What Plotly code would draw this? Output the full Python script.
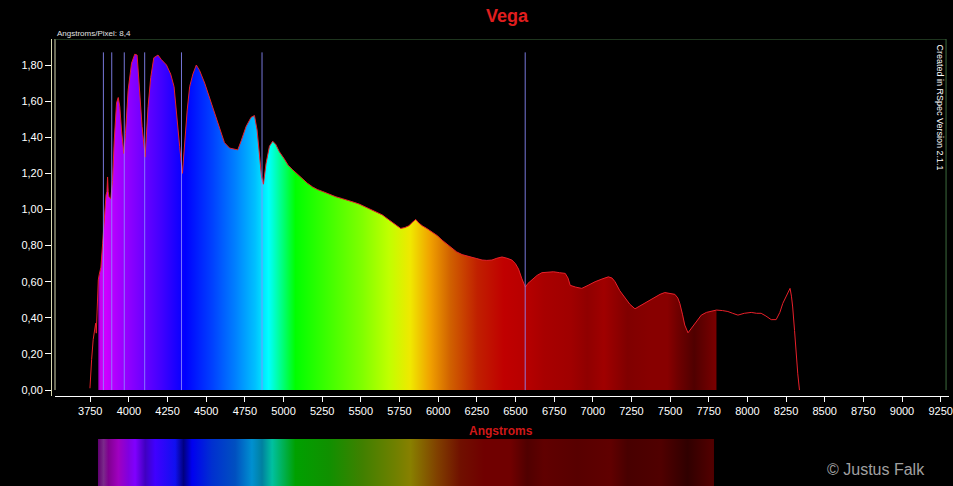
import plotly.graph_objects as go

# Vega spectrum
wavelength = [3748, 3750, 3759, 3769, 3776, 3785, 3789, 3793, 3798, 3802, 3808, 3819, 3830, 3838,
              3845, 3852, 3858, 3862, 3866, 3871, 3883, 3894, 3905, 3920, 3931, 3941, 3952, 3967,
              3978, 3995, 4017, 4038, 4053, 4070, 4085, 4105, 4124, 4141, 4161, 4188, 4210, 4243,
              4270, 4292, 4313, 4328, 4346, 4361, 4377, 4393, 4414, 4436, 4457, 4490, 4533, 4575,
              4618, 4651, 4680, 4704, 4726, 4758, 4790, 4812, 4829, 4844, 4858, 4870, 4887, 4909,
              4930, 4950, 4973, 5005, 5030, 5059, 5090, 5123, 5155, 5188, 5220, 5252, 5295, 5339,
              5380, 5424, 5455, 5489, 5520, 5553, 5595, 5639, 5670, 5704, 5730, 5758, 5785, 5811,
              5835, 5855, 5875, 5897, 5930, 5961, 5995, 6026, 6060, 6090, 6120, 6155, 6190, 6219,
              6250, 6284, 6315, 6348, 6380, 6413, 6445, 6477, 6500, 6520, 6540, 6553, 6564, 6580,
              6606, 6640, 6671, 6714, 6746, 6785, 6822, 6840, 6854, 6890, 6929, 6970, 7015, 7060,
              7101, 7125, 7144, 7175, 7208, 7240, 7273, 7305, 7337, 7370, 7402, 7435, 7466, 7500,
              7531, 7550, 7563, 7580, 7595, 7616, 7640, 7660, 7680, 7702, 7735, 7767, 7800, 7840,
              7874, 7905, 7939, 7980, 8025, 8060, 8089, 8120, 8154, 8186, 8210, 8229, 8255, 8276,
              8285, 8293, 8305, 8315, 8326, 8337]
intensity = [0.01, 0.055, 0.17, 0.28, 0.33, 0.37, 0.315, 0.43, 0.59, 0.61, 0.64, 0.68, 0.81, 0.92,
             1.00, 1.08, 1.10, 1.18, 1.10, 1.07, 1.06, 1.16, 1.38, 1.59, 1.62, 1.57, 1.44, 1.31,
             1.42, 1.66, 1.81, 1.86, 1.855, 1.66, 1.46, 1.29, 1.57, 1.73, 1.84, 1.855, 1.83, 1.80,
             1.75, 1.68, 1.51, 1.35, 1.20, 1.38, 1.55, 1.68, 1.75, 1.80, 1.77, 1.70, 1.59, 1.48,
             1.37, 1.34, 1.335, 1.33, 1.38, 1.46, 1.51, 1.52, 1.44, 1.29, 1.18, 1.14, 1.255, 1.35,
             1.378, 1.36, 1.32, 1.28, 1.245, 1.22, 1.195, 1.17, 1.145, 1.125, 1.11, 1.10, 1.085, 1.07,
             1.06, 1.05, 1.04, 1.03, 1.018, 1.006, 0.99, 0.97, 0.95, 0.93, 0.91, 0.895, 0.90, 0.91,
             0.93, 0.945, 0.925, 0.91, 0.893, 0.877, 0.855, 0.83, 0.805, 0.785, 0.765, 0.75, 0.74, 0.735,
             0.728, 0.72, 0.718, 0.72, 0.73, 0.737, 0.73, 0.72, 0.70, 0.67, 0.62, 0.59, 0.57, 0.59,
             0.61, 0.635, 0.65, 0.655, 0.655, 0.65, 0.646, 0.62, 0.58, 0.57, 0.563, 0.58, 0.60, 0.615,
             0.627, 0.62, 0.60, 0.55, 0.51, 0.475, 0.45, 0.465, 0.48, 0.50, 0.513, 0.53, 0.54, 0.535,
             0.53, 0.51, 0.48, 0.42, 0.36, 0.317, 0.345, 0.37, 0.395, 0.415, 0.43, 0.435, 0.443, 0.44,
             0.435, 0.425, 0.415, 0.425, 0.43, 0.425, 0.425, 0.41, 0.39, 0.39, 0.43, 0.48, 0.53, 0.563,
             0.52, 0.46, 0.33, 0.184, 0.09, 0.0]

# hydrogen Balmer lines marked on the chart
balmer_lines = [3835, 3889, 3970, 4102, 4340, 4861, 6563]

# colours of the filled area under the curve (wavelength, colour)
fill_wl = [3800, 3815, 3845, 3930, 4038, 4210, 4360, 4533, 4683, 4812, 4898, 4984, 5070, 5285,
           5500, 5671, 5811, 5940, 6069, 6241, 6413, 6542, 6671, 6843, 6950, 7057, 7208, 7358,
           7466, 7531, 7638, 7745, 7800]
fill_col = ['#9000b0', '#c800f0', '#d000ff', '#a800ff', '#8000ff', '#4000ff', '#0000ff', '#0040ff',
            '#0080ff', '#00c0ff', '#00ffff', '#00ff80', '#00ff00', '#40ff00', '#80ff00', '#c0ff00',
            '#f0e800', '#f0a000', '#d06000', '#c02000', '#c00000', '#b80000', '#a80000', '#a00000',
            '#900000', '#a00000', '#800000', '#880000', '#880000', '#700000', '#500000', '#700000',
            '#800000']

# colours of the spectrum strip under the axis
strip_wl = [3800, 3835, 3866, 3930, 3995, 4038, 4103, 4167, 4296, 4350, 4404, 4533, 4683, 4790,
            4855, 4920, 5070, 5285, 5500, 5715, 5811, 5983, 6133, 6284, 6456, 6563, 6671, 6886,
            7101, 7208, 7423, 7595, 7745, 7784]
strip_col = ['#600070', '#7a2a8a', '#800090', '#a000c0', '#8000e0', '#8000ff', '#4000c0', '#4000ff',
             '#1010f0', '#000080', '#0000f0', '#0030d0', '#0050c0', '#0090d0', '#0080a0', '#00c0a0',
             '#00a000', '#109000', '#408000', '#708000', '#888000', '#804000', '#701000', '#700000',
             '#700000', '#500000', '#600000', '#580000', '#600000', '#480000', '#500000', '#300000',
             '#500000', '#500000']


def scale(wl, cols):
    lo, hi = wl[0], wl[-1]
    return [[(w - lo) / (hi - lo), c] for w, c in zip(wl, cols)]


fill_x = [w for w in wavelength if fill_wl[0] <= w <= fill_wl[-1]]
fill_y = [v for w, v in zip(wavelength, intensity) if fill_wl[0] <= w <= fill_wl[-1]]

fig = go.Figure()

fig.add_trace(go.Scatter(x=fill_x, y=fill_y, mode='lines', line={'width': 0},
                         fill='tozeroy',
                         fillgradient={'type': 'horizontal', 'colorscale': scale(fill_wl, fill_col),
                                       'start': fill_wl[0], 'stop': fill_wl[-1]},
                         hoverinfo='skip', showlegend=False))

for wl in balmer_lines:
    fig.add_shape(type='line', x0=wl, x1=wl, y0=0, y1=1.87, xref='x', yref='y',
                  line={'color': 'rgba(140,140,255,0.85)', 'width': 1})

fig.add_trace(go.Scatter(x=wavelength, y=intensity, mode='lines',
                         line={'color': '#e8202a', 'width': 1}, showlegend=False))

# spectrum strip
fig.add_trace(go.Scatter(x=[strip_wl[0], strip_wl[-1], strip_wl[-1], strip_wl[0], strip_wl[0]],
                         y=[0, 0, 1, 1, 0], xaxis='x2', yaxis='y2', mode='lines',
                         line={'width': 0}, fill='toself',
                         fillgradient={'type': 'horizontal', 'colorscale': scale(strip_wl, strip_col),
                                       'start': strip_wl[0], 'stop': strip_wl[-1]},
                         hoverinfo='skip', showlegend=False))

# frame
fig.add_shape(type='line', xref='paper', yref='y', x0=0, x1=0, y0=0, y1=1.944,
              line={'color': '#d8d8b0', 'width': 1})
fig.add_shape(type='line', xref='paper', yref='y', x0=0, x1=0.9967, y0=1.944, y1=1.944,
              line={'color': '#3d6b3d', 'width': 1})
fig.add_shape(type='line', xref='paper', yref='y', x0=0.9967, x1=0.9967, y0=0, y1=1.944,
              line={'color': '#3d6b3d', 'width': 1})

font = 'Liberation Sans, Arial'
tick_font = {'family': font, 'size': 11, 'color': 'white'}


def label(text, x, y, size, color, **kw):
    return dict(text=text, xref='paper', yref='paper', x=x, y=y, showarrow=False,
                xanchor=kw.pop('xanchor', 'center'), yanchor='middle',
                font={'family': font, 'size': size, 'color': color}, **kw)


fig.update_layout(
    width=953, height=486,
    margin={'l': 55, 'r': 0, 't': 39, 'b': 0},
    paper_bgcolor='black', plot_bgcolor='black',
    separators=',.',
    showlegend=False,
    xaxis={'range': [3522, 9304], 'tick0': 3750, 'dtick': 250, 'ticks': 'outside', 'ticklen': 5,
           'tickcolor': 'white', 'showline': True, 'linecolor': 'white', 'linewidth': 1,
           'showgrid': False, 'zeroline': False, 'tickfont': tick_font, 'anchor': 'y',
           'ticklabeloverflow': 'allow'},
    yaxis={'range': [-0.033, 1.944], 'domain': [0.2013, 1], 'tick0': 0, 'dtick': 0.2,
           'tickformat': '.2f', 'ticks': 'outside', 'ticklen': 6, 'tickcolor': 'white',
           'showline': True, 'linecolor': '#d8d8b0', 'showgrid': False, 'zeroline': False,
           'tickfont': tick_font, 'anchor': 'free', 'position': 0, 'shift': -4},
    xaxis2={'matches': 'x', 'anchor': 'y2', 'visible': False},
    yaxis2={'range': [0, 1], 'domain': [0, 0.105], 'visible': False},
    annotations=[
        label('<b>Vega</b>', 0.5056, 1.0515, 18, '#e01e1e'),
        label('Angstroms/Pixel: 8,4', 0, 1.0134, 8, '#e0e0e0', xanchor='left'),
        label('<b>Angstroms</b>', 0.4989, 0.123, 12, '#d01818'),
        label('© Justus Falk', 0.9187, 0.0358, 16, '#a0a0a0'),
        label('Created in RSpec Version 2.1.1', 0.9889, 0.8468, 9, 'white', textangle=90),
    ],
)

fig.write_html('out.html', config={'displayModeBar': False},
               post_script="document.body.style.margin='0';")
